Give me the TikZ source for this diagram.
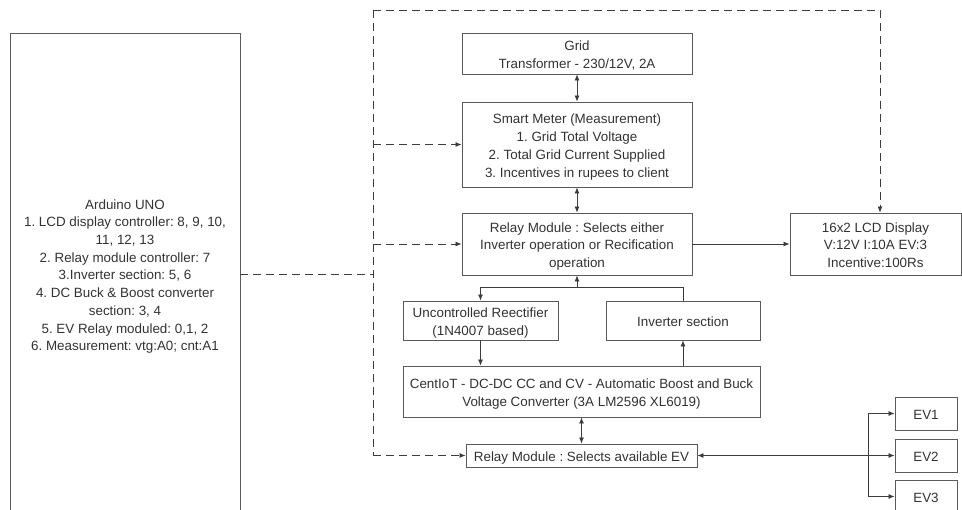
\documentclass[tikz,border=0pt]{standalone}
\usepackage{fontspec}
\setmainfont{Liberation Sans}
\usetikzlibrary{arrows.meta}
\definecolor{boxline}{HTML}{5A5A5A}
\definecolor{wire}{HTML}{3C3C3C}
\definecolor{txt}{HTML}{333333}
\newcommand\topst{\rule{0pt}{15pt}}
\newcommand\botst{\rule[-3pt]{0pt}{3pt}}
\tikzset{
  blk/.style={draw=boxline, line width=0.9pt, fill=white, inner sep=0pt, align=center,
    text=txt, font=\fontsize{13.4}{17.7}\selectfont\frenchspacing},
  wire/.style={draw=wire, line width=0.8pt},
  tip/.style={-{Latex[length=6pt,width=5pt]}},
  dtip/.style={{Latex[length=6pt,width=5pt]}-{Latex[length=6pt,width=5pt]}},
  dash line/.style={draw=wire, line width=0.8pt, dash pattern=on 8pt off 5pt}
}
\begin{document}
\begin{tikzpicture}[x=1pt,y=-1pt]
\useasboundingbox (0,0) rectangle (962,510);
\fill[white] (0,0) rectangle (962,510);
\clip (0,0) rectangle (962,510);

% blocks
\node[blk, minimum width=230pt, minimum height=482pt] (ard) at (125,274)
  {\topst Arduino UNO\\1. LCD display controller: 8, 9, 10,\\11, 12, 13\\2. Relay module controller: 7\\3.Inverter section: 5, 6\\4. DC Buck \& Boost converter\\section: 3, 4\\5. EV Relay moduled: 0,1, 2\\6. Measurement: vtg:A0; cnt:A1\botst};
\node[blk, minimum width=230pt, minimum height=41pt] (grid) at (577,53.5)
  {\topst Grid\\Transformer - 230/12V, 2A\botst};
\node[blk, minimum width=230pt, minimum height=85pt] (meter) at (577,144.5)
  {\topst Smart Meter (Measurement)\\1. Grid Total Voltage\\2. Total Grid Current Supplied\\3. Incentives in rupees to client\botst};
\node[blk, minimum width=230pt, minimum height=62pt] (relay) at (577,244)
  {\topst Relay Module : Selects either\\Inverter operation or Recification\\operation\botst};
\node[blk, minimum width=171pt, minimum height=62pt] (lcd) at (875.5,244)
  {\topst 16x2 LCD Display\\V:12V I:10A EV:3\\Incentive:100Rs\botst};
\node[blk, minimum width=155pt, minimum height=39pt] (rect) at (480.5,320.5)
  {\topst Uncontrolled Reectifier\\(1N4007 based)\botst};
\node[blk, minimum width=154pt, minimum height=39pt] (inv) at (683,320.5)
  {\topst Inverter section\botst};
\node[blk, minimum width=357pt, minimum height=51pt] (conv) at (581.5,391.5)
  {\topst CentIoT - DC-DC CC and CV - Automatic Boost and Buck\\Voltage Converter (3A LM2596 XL6019)\botst};
\node[blk, minimum width=231pt, minimum height=23pt] (relay2) at (581.5,455.5)
  {\topst Relay Module : Selects available EV\botst};
\node[blk, minimum width=62pt, minimum height=33pt] (ev1) at (926,413.5) {\topst EV1\botst};
\node[blk, minimum width=62pt, minimum height=33pt] (ev2) at (926,455.5) {\topst EV2\botst};
\node[blk, minimum width=62pt, minimum height=33pt] (ev3) at (926,496.5) {\topst EV3\botst};

% coordinates
\coordinate (btop) at (373,10);
\coordinate (bbot) at (373,455.5);
\coordinate (tr) at (880,10);
\coordinate (jn) at (577,287);
\coordinate (jl) at (480.5,287);
\coordinate (jr) at (683,287);
\coordinate (evb) at (868,413.5);
\coordinate (evc) at (868,496.5);

% solid connectors
\draw[wire, dtip] (grid.south) -- (meter.north);
\draw[wire, dtip] (meter.south) -- (relay.north);
\draw[wire, tip] (relay.east) -- (lcd.west);
\draw[wire, tip] (inv.north) -- (jr) -- (jl) -- (rect.north);
\draw[wire, tip] (jn) -- (relay.south);
\draw[wire, tip] (rect.south) -- (rect.south |- conv.north);
\draw[wire, tip] (inv.south |- conv.north) -- (inv.south);
\draw[wire, dtip] (conv.south) -- (relay2.north);
\draw[wire, dtip] (relay2.east) -- (ev2.west);
\draw[wire, tip] (evb |- ev2.west) -- (evb) -- (ev1.west);
\draw[wire, tip] (evb |- ev2.west) -- (evc) -- (ev3.west);

% dashed control lines
\draw[dash line] (ard.east |- 0,274) -- (373,274);
\draw[dash line] (btop) -- (bbot);
\draw[dash line, tip] (373,144.5) -- (meter.west);
\draw[dash line, tip] (373,244) -- (relay.west);
\draw[dash line, tip] (bbot) -- (relay2.west);
\draw[dash line, tip] (btop) -- (tr) -- (tr |- lcd.north);
\end{tikzpicture}
\end{document}
